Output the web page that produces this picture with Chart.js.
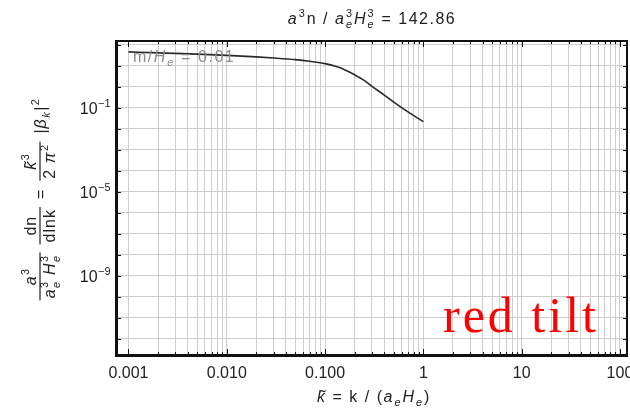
<!DOCTYPE html>
<html>
<head>
<meta charset="utf-8">
<script src="https://cdn.jsdelivr.net/npm/chart.js@4"></script>
<style>
  body { margin: 0; background: #fff; }
  #wrap { width: 630px; height: 414px; }
</style>
</head>
<body>
<div id="wrap"><canvas id="chart" width="630" height="414"></canvas></div>
<script>
// values
const kTilde = [0.001, 0.002, 0.005, 0.01, 0.02, 0.03, 0.05, 0.07, 0.1, 0.13, 0.16, 0.2, 0.25, 0.3, 0.4, 0.5, 0.65, 0.8, 1.0];
const spectrum = [45.7, 40.7, 35.5, 30.9, 26.3, 23.4, 19.5, 16.2, 12.6, 9.1, 6.3, 3.7, 2.0, 1.05, 0.40, 0.186, 0.079, 0.042, 0.022];

const xTickValues = [0.001, 0.01, 0.1, 1, 10, 100];
const xTickLabels = ['0.001', '0.010', '0.100', '1', '10', '100'];
const yGridExponents = [-12, -11, -10, -9, -8, -7, -6, -5, -4, -3, -2, -1, 0, 1, 2];
const yLabelExponents = [-9, -5, -1];

const FONT = '"Liberation Sans", Arial, sans-serif';

// minor + major positions for the log grid
const xGridValues = [];
xTickValues.forEach((d, i) => {
    if (i === xTickValues.length - 1) { xGridValues.push(d); return; }
    for (let m = 1; m <= 9; m++) xGridValues.push(+(d * m).toPrecision(3));
});

// draws a run of text pieces with optional super/subscripts, returns width
function drawParts(ctx, parts, x, y, size, measureOnly) {
    let cx = x;
    parts.forEach(p => {
        ctx.font = `${p.it ? 'italic ' : ''}${size}px ${FONT}`;
        if (p.t) {
            if (!measureOnly) ctx.fillText(p.t, cx, y);
            cx += ctx.measureText(p.t).width;
        }
        if (p.sup || p.sub) {
            const s = size * 0.68;
            let w = 0;
            if (p.sup) {
                ctx.font = `${s}px ${FONT}`;
                if (!measureOnly) ctx.fillText(p.sup, cx + 0.5, y - size * 0.42);
                w = Math.max(w, ctx.measureText(p.sup).width);
            }
            if (p.sub) {
                ctx.font = `italic ${s}px ${FONT}`;
                if (!measureOnly) ctx.fillText(p.sub, cx + 0.5, y + size * 0.28);
                w = Math.max(w, ctx.measureText(p.sub).width);
            }
            cx += w + 1;
        }
    });
    return cx - x;
}

function drawCentered(ctx, parts, cx, y, size) {
    const w = drawParts(ctx, parts, 0, 0, size, true);
    drawParts(ctx, parts, cx - w / 2, y, size);
}

// a sequence of fractions and plain runs laid along a baseline, bar at y=0
function drawFormula(ctx, items, size, gap) {
    const widths = items.map(it => {
        if (it.num) {
            return Math.max(drawParts(ctx, it.num, 0, 0, size, true), drawParts(ctx, it.den, 0, 0, size, true)) + 4;
        }
        return drawParts(ctx, it.run, 0, 0, size, true);
    });
    const total = widths.reduce((a, b) => a + b, 0) + gap * (items.length - 1);
    let x = -total / 2;
    items.forEach((it, i) => {
        const w = widths[i];
        if (it.num) {
            const wn = drawParts(ctx, it.num, 0, 0, size, true);
            const wd = drawParts(ctx, it.den, 0, 0, size, true);
            drawParts(ctx, it.num, x + (w - wn) / 2, -4, size);
            drawParts(ctx, it.den, x + (w - wd) / 2, size * 0.95, size);
            ctx.fillRect(x, -0.6, w, 1.2);
        } else {
            drawParts(ctx, it.run, x, size * 0.36, size);
        }
        x += w + gap;
    });
}

const annotations = {
    id: 'annotations',
    afterDraw(chart) {
        const { ctx, chartArea: a, scales: { x, y } } = chart;
        ctx.save();

        // frame
        ctx.strokeStyle = '#111';
        ctx.lineWidth = 2;
        ctx.strokeRect(a.left, a.top, a.right - a.left, a.bottom - a.top);
        ctx.fillStyle = '#111';
        ctx.fillRect(a.left - 2, a.top - 1, 3, a.bottom - a.top + 3);
        ctx.fillRect(a.left - 2, a.bottom - 1, a.right - a.left + 3, 3);

        // tick marks inside the frame
        ctx.lineWidth = 1;
        ctx.beginPath();
        xGridValues.forEach(v => {
            const px = Math.round(x.getPixelForValue(v)) + 0.5;
            const len = xTickValues.includes(v) ? 6 : 3;
            ctx.moveTo(px, a.top); ctx.lineTo(px, a.top + len);
            ctx.moveTo(px, a.bottom); ctx.lineTo(px, a.bottom - len);
        });
        yGridExponents.forEach(e => {
            const py = Math.round(y.getPixelForValue(Math.pow(10, e))) + 0.5;
            ctx.moveTo(a.left, py); ctx.lineTo(a.left + 4, py);
            ctx.moveTo(a.right, py); ctx.lineTo(a.right - 4, py);
        });
        ctx.stroke();

        ctx.fillStyle = '#222';
        ctx.textAlign = 'left';
        ctx.textBaseline = 'alphabetic';

        // y tick labels
        yLabelExponents.forEach(e => {
            const py = y.getPixelForValue(Math.pow(10, e));
            const parts = [{ t: '10', sup: '\u2212' + Math.abs(e) }];
            const w = drawParts(ctx, parts, 0, 0, 16, true);
            drawParts(ctx, parts, a.left - 6 - w, py + 6, 16);
        });

        ctx.letterSpacing = '1.5px';
        // title
        drawCentered(ctx, [
            { t: 'a', it: true, sup: '3' }, { t: 'n / ' },
            { t: 'a', it: true, sup: '3', sub: 'e' }, { t: 'H', it: true, sup: '3', sub: 'e' },
            { t: ' = 142.86' }
        ], (a.left + a.right) / 2, 24, 16);

        // x axis title
        drawCentered(ctx, [
            { t: 'k\u0303', it: true }, { t: ' = k / (' },
            { t: 'a', it: true, sub: 'e' }, { t: 'H', it: true, sub: 'e' }, { t: ')' }
        ], (a.left + a.right) / 2 + 2, 402, 16);

        // y axis title, rotated
        ctx.letterSpacing = '1px';
        ctx.save();
        ctx.translate(40, 199);
        ctx.rotate(-Math.PI / 2);
        drawFormula(ctx, [
            { num: [{ t: 'a', it: true, sup: '3' }],
              den: [{ t: 'a', it: true, sup: '3', sub: 'e' }, { t: ' ' }, { t: 'H', it: true, sup: '3', sub: 'e' }] },
            { num: [{ t: 'dn' }], den: [{ t: 'dlnk' }] },
            { run: [{ t: '=' }] },
            { num: [{ t: 'k\u0303', it: true, sup: '3' }], den: [{ t: '2 ' }, { t: '\u03c0', it: true, sup: '2' }] },
            { run: [{ t: '|' }, { t: '\u03b2', it: true, sub: 'k' }, { t: '|', sup: '2' }] }
        ], 16, 8);
        ctx.restore();

        // curve label
        ctx.letterSpacing = '1.5px';
        ctx.fillStyle = '#8c8c8c';
        drawParts(ctx, [{ t: 'm/' }, { t: 'H', it: true, sub: 'e' }, { t: ' = 0.01' }], a.left + 16, 62, 16);

        // red tilt
        ctx.fillStyle = '#ff0000';
        ctx.font = '50px "Liberation Serif", "Times New Roman", serif';
        ctx.letterSpacing = '3px';
        ctx.fillText('red tilt', 443, 332);

        ctx.restore();
    }
};

const ctx = document.getElementById('chart').getContext('2d');
new Chart(ctx, {
    type: 'line',
    data: {
        datasets: [{
            data: kTilde.map((k, i) => ({ x: k, y: spectrum[i] })),
            borderColor: '#2a2a2a',
            borderWidth: 1.6,
            pointRadius: 0,
            cubicInterpolationMode: 'monotone',
            fill: false
        }]
    },
    options: {
        responsive: false,
        animation: false,
        layout: { padding: { left: 0, right: 3, top: 41, bottom: 0 } },
        plugins: { legend: { display: false }, tooltip: { enabled: false } },
        scales: {
            x: {
                type: 'logarithmic',
                min: 7.64e-4,
                max: 118,
                afterBuildTicks: s => { s.ticks = xGridValues.map(v => ({ value: v })); },
                afterFit: s => { s.height = 59; s.paddingLeft = 0; s.paddingRight = 0; },
                grid: { color: '#cdcdcd', lineWidth: 1, drawTicks: false },
                border: { display: false },
                ticks: {
                    autoSkip: false,
                    maxRotation: 0,
                    padding: 9,
                    color: '#222',
                    font: { family: FONT, size: 16 },
                    callback: v => {
                        const i = xTickValues.indexOf(v);
                        return i >= 0 ? xTickLabels[i] : '';
                    }
                }
            },
            y: {
                type: 'logarithmic',
                min: 1.7e-13,
                max: 150,
                afterBuildTicks: s => { s.ticks = yGridExponents.map(e => ({ value: Math.pow(10, e) })); },
                afterFit: s => { s.width = 117; s.paddingTop = 0; s.paddingBottom = 0; },
                grid: { color: '#cdcdcd', lineWidth: 1, drawTicks: false },
                border: { display: false },
                ticks: { display: false }
            }
        }
    },
    plugins: [annotations]
});
</script>
</body>
</html>
